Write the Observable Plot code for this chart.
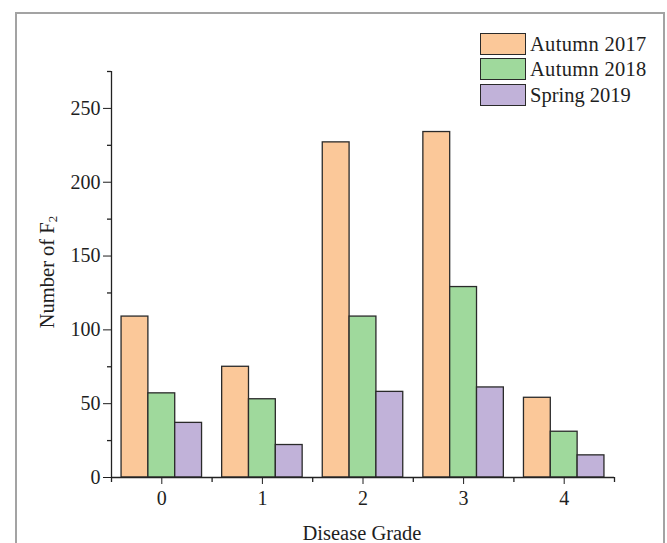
<!DOCTYPE html>
<html><head><meta charset="utf-8">
<script src="https://cdn.jsdelivr.net/npm/d3@7"></script>
<script src="https://cdn.jsdelivr.net/npm/@observablehq/plot@0.6"></script>
<style>
body{margin:0;background:#fff;}
#wrap{position:relative;width:667px;height:543px;overflow:hidden;font-family:"Liberation Serif",serif;color:#1e1e1e;}
#frame{position:absolute;left:15px;top:12px;width:646px;height:600px;border:2px solid #a3a3a3;border-bottom:none;}
#chart{position:absolute;left:0;top:0;}
#chart svg text{font-size:20px !important;fill:#1e1e1e;}
#legend{position:absolute;left:480px;top:31px;}
.item{display:flex;align-items:center;height:25.5px;font-size:20.5px;line-height:1;}
.sw{width:46px;height:22px;border:1.3px solid #2a2a2a;margin-right:4px;box-sizing:border-box;}
#ylab{position:absolute;left:48px;top:272px;transform:translate(-50%,-50%) rotate(-90deg);font-size:20.5px;white-space:nowrap;}
#ylab sub{font-size:13px;vertical-align:-3px;}
#xlab{position:absolute;left:362px;top:533px;transform:translate(-50%,-50%);font-size:20.5px;white-space:nowrap;}
</style></head>
<body>
<div id="wrap">
  <div id="frame"></div>
  <div id="chart"></div>
  <div id="ylab">Number of F<sub>2</sub></div>
  <div id="xlab">Disease Grade</div>
  <div id="legend"></div>
</div>
<script>
const grades = [0, 1, 2, 3, 4];
const series = ["Autumn 2017", "Autumn 2018", "Spring 2019"];
const autumn2017 = [109, 75, 227, 234, 54];
const autumn2018 = [57, 53, 109, 129, 31];
const spring2019 = [37, 22, 58, 61, 15];
const colors = ["#fbc899", "#9fd99c", "#c1b2d9"];
const yTicks = [0, 50, 100, 150, 200, 250];
const yMinor = [25, 75, 125, 175, 225, 275];
const xMinor = [-0.5, 0.5, 1.5, 2.5, 3.5, 4.5];

const values = [autumn2017, autumn2018, spring2019];
const data = grades.flatMap((g, i) => series.map((s, k) => ({grade: g, series: s, k, value: values[k][i]})));
const pad = 0.1, bw = 0.2667;

const plot = Plot.plot({
  width: 667, height: 543,
  marginLeft: 111, marginRight: 53, marginTop: 71, marginBottom: 66,
  style: {fontFamily: "Liberation Serif", fontSize: "20px", color: "#1e1e1e", background: "transparent", overflow: "visible"},
  x: {type: "linear", domain: [-0.5, 4.5], ticks: grades, tickFormat: d => String(d), tickSize: 7, tickPadding: 6, label: null},
  y: {domain: [0, 275], ticks: yTicks, tickSize: 8, tickPadding: 3, label: null},
  color: {domain: series, range: colors},
  marks: [
    Plot.rectY(data, {
      x1: d => d.grade - 0.5 + pad + d.k * bw,
      x2: d => d.grade - 0.5 + pad + (d.k + 1) * bw,
      y1: 0, y2: "value", fill: "series", stroke: "#2a2a2a", strokeWidth: 1.3
    }),
    Plot.ruleY([0], {x1: -0.5, x2: 4.5, stroke: "#222", strokeWidth: 1.3}),
    Plot.ruleX([-0.5], {y1: 0, y2: 275, stroke: "#222", strokeWidth: 1.3}),
    Plot.ruleX(xMinor, {y1: 0, y2: 0, insetBottom: -5, stroke: "#222", strokeWidth: 1.3}),
    Plot.ruleY(yMinor, {x1: -0.5, x2: -0.5, insetLeft: -4, stroke: "#222", strokeWidth: 1.3})
  ]
});
document.getElementById("chart").appendChild(plot);

const legend = document.getElementById("legend");
series.forEach((s, k) => {
  const item = document.createElement("div");
  item.className = "item";
  const sw = document.createElement("div");
  sw.className = "sw";
  sw.style.background = colors[k];
  const t = document.createElement("span");
  t.textContent = s;
  if (s.startsWith("Autumn")) t.style.letterSpacing = "0.3px";
  item.appendChild(sw); item.appendChild(t);
  legend.appendChild(item);
});
</script>
</body></html>
